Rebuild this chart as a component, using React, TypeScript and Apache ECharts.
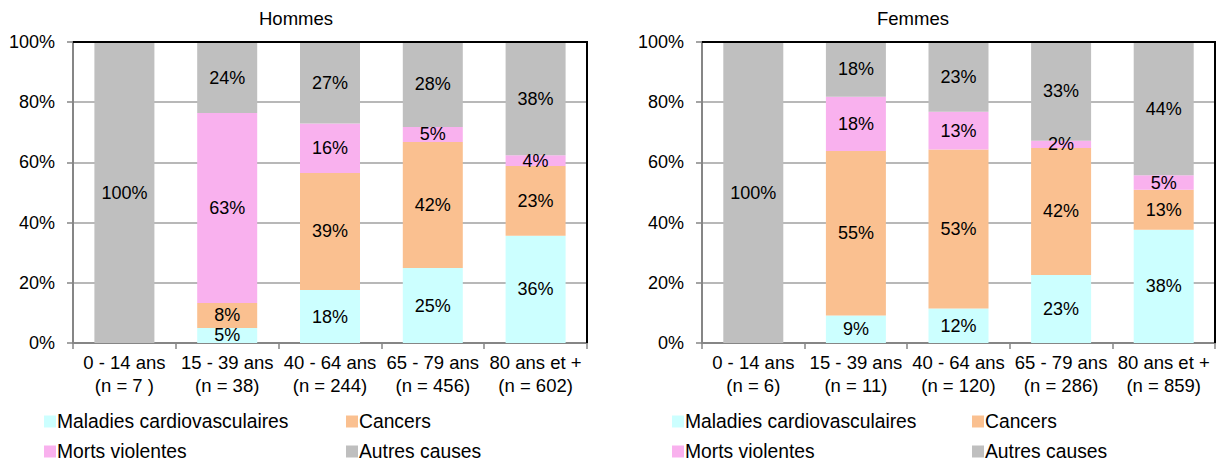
import React, { useEffect, useRef } from "react";
import * as echarts from "echarts";

const ageGroups = ["0 - 14 ans", "15 - 39 ans", "40 - 64 ans", "65 - 79 ans", "80 ans et +"];
const nHommes = ["7 ", "38", "244", "456", "602"];
const nFemmes = ["6", "11", "120", "286", "859"];

const seriesNames = ["Maladies cardiovasculaires", "Cancers", "Morts violentes", "Autres causes"];
const seriesColors = ["#CCFFFF", "#FAC090", "#F9B1EE", "#BFBFBF"];

// Hommes (% of deaths)
const hommesCardio = [0, 5.0, 17.6, 24.9, 35.6];
const hommesCancers = [0, 8.3, 38.9, 41.9, 23.2];
const hommesViolentes = [0, 63.1, 16.4, 5.0, 3.6];
const hommesAutres = [100, 23.6, 27.1, 28.2, 37.6];

// Femmes (% of deaths)
const femmesCardio = [0, 9.1, 11.5, 22.6, 37.6];
const femmesCancers = [0, 54.7, 52.8, 42.2, 13.3];
const femmesViolentes = [0, 18.0, 12.5, 2.4, 4.8];
const femmesAutres = [100, 18.2, 23.2, 32.8, 44.3];

const yTicks = { min: 0, max: 100, interval: 20 };

const FONT = "'Liberation Sans', Arial, sans-serif";

export default function App() {
  const ref = useRef<HTMLDivElement>(null);

  useEffect(() => {
    if (!ref.current) return;
    const chart = echarts.init(ref.current, undefined, { renderer: "svg" });

    const catH = ageGroups.map((a, i) => `${a}\n(n = ${nHommes[i]})`);
    const catF = ageGroups.map((a, i) => `${a}\n(n = ${nFemmes[i]})`);

    const axisGray = "#868686";

    const makeX = (gi: number, data: string[]) => ({
      type: "category",
      gridIndex: gi,
      data,
      axisLine: { show: true, lineStyle: { color: axisGray, width: 2 } },
      axisTick: { show: true, length: 6, alignWithLabel: false, lineStyle: { color: axisGray, width: 1.5 } },
      axisLabel: {
        interval: 0,
        fontSize: 18.5,
        color: "#000",
        fontFamily: FONT,
        lineHeight: 23,
        margin: 8,
      },
    });

    const makeY = (gi: number) => ({
      type: "value",
      gridIndex: gi,
      min: yTicks.min,
      max: yTicks.max,
      interval: yTicks.interval,
      axisLine: { show: true, lineStyle: { color: axisGray, width: 2 } },
      axisTick: { show: true, length: 6, lineStyle: { color: axisGray, width: 1.5 } },
      splitLine: { show: true, lineStyle: { color: "#A0A0A0", width: 1.5 } },
      axisLabel: {
        formatter: "{value}%",
        fontSize: 18,
        color: "#000",
        fontFamily: FONT,
        margin: 18,
      },
    });

    const hData = [hommesCardio, hommesCancers, hommesViolentes, hommesAutres];
    const fData = [femmesCardio, femmesCancers, femmesViolentes, femmesAutres];

    const makeSeries = (gi: number, stack: string, data: number[][]) =>
      data.map((vals, si) => ({
        name: seriesNames[si],
        type: "bar",
        stack,
        xAxisIndex: gi,
        yAxisIndex: gi,
        barWidth: 60,
        data: vals,
        itemStyle: { color: seriesColors[si] },
        label: {
          show: true,
          position: "inside",
          fontSize: 18,
          color: "#000",
          fontFamily: FONT,
          formatter: (p: any) => (p.value > 0 ? `${Math.round(p.value)}%` : ""),
        },
      }));

    const legendBase = {
      orient: "vertical",
      icon: "rect",
      itemWidth: 12,
      itemHeight: 12,
      itemGap: 11,
      padding: 0,
      top: 412,
      height: 80,
      textStyle: { fontSize: 19.3, color: "#000", fontFamily: FONT, padding: [0, 0, 0, -4] },
    };

    chart.setOption({
      animation: false,
      textStyle: { fontFamily: FONT },
      title: [
        { text: "Hommes", left: 259, top: 9, padding: 0, textStyle: { fontSize: 18.5, fontWeight: "normal", color: "#000", fontFamily: FONT } },
        { text: "Femmes", left: 877, top: 9, padding: 0, textStyle: { fontSize: 18.5, fontWeight: "normal", color: "#000", fontFamily: FONT } },
      ],
      legend: [
        { ...legendBase, left: 44, data: [seriesNames[0], seriesNames[2]] },
        { ...legendBase, left: 346, data: [seriesNames[1], seriesNames[3]] },
        { ...legendBase, left: 672, data: [seriesNames[0], seriesNames[2]] },
        { ...legendBase, left: 972, data: [seriesNames[1], seriesNames[3]] },
      ],
      grid: [
        { left: 73, top: 42, width: 514, height: 301 },
        { left: 702, top: 42, width: 513, height: 301 },
      ],
      xAxis: [makeX(0, catH), makeX(1, catF)],
      yAxis: [makeY(0), makeY(1)],
      series: [...makeSeries(0, "h", hData), ...makeSeries(1, "f", fData)],
      graphic: [
        { type: "polyline", shape: { points: [[73, 42], [587, 42], [587, 343]] }, style: { stroke: "#000", lineWidth: 2, fill: null }, z: 100 },
        { type: "polyline", shape: { points: [[702, 42], [1215, 42], [1215, 343]] }, style: { stroke: "#000", lineWidth: 2, fill: null }, z: 100 },
      ],
    });

    return () => chart.dispose();
  }, []);

  return (
    <div
      ref={ref}
      style={{ position: "absolute", left: 0, top: 0, width: 1217, height: 462, background: "#fff" }}
    />
  );
}
